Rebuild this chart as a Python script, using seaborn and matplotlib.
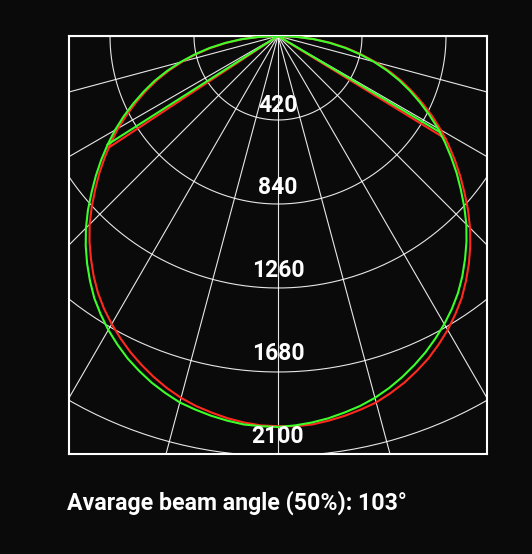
import numpy as np
import pandas as pd
import matplotlib.pyplot as plt
import seaborn as sns

# Luminous intensity (cd), 0..90 deg from nadir, 2.5 deg steps
angles = [0, 2.5, 5, 7.5, 10, 12.5, 15, 17.5, 20, 22.5, 25, 27.5, 30, 32.5, 35,
          37.5, 40, 42.5, 45, 47.5, 50, 52.5, 55, 57.5, 60, 62.5, 65, 67.5, 70,
          72.5, 75, 77.5, 80, 82.5, 85, 87.5, 90]
wide_side = [1955, 1953, 1950, 1940, 1928, 1913, 1897, 1872, 1845, 1813, 1779,
             1739, 1697, 1650, 1601, 1544, 1485, 1423, 1358, 1289, 1217, 1148,
             1079, 1010, 941, 870, 798, 727, 657, 582, 505, 427, 349, 266, 182, 92, 0]
narrow_side = [1951, 1949, 1940, 1928, 1912, 1895, 1873, 1846, 1815, 1781, 1745,
               1705, 1663, 1618, 1569, 1514, 1455, 1395, 1332, 1263, 1193, 1126,
               1057, 990, 923, 852, 782, 713, 643, 570, 495, 419, 341, 260, 178, 90, 0]

# angle where each plane's straight segment meets its curve (left, right)
green_cut = [-57.5, 59.3]
red_cut = [-56.6, 58.5]

rings = [420, 840, 1260, 1680, 2100]
spokes = list(range(-90, 91, 15))
caption = "Avarage beam angle (50%): 103°"

bg = "#0a0a0a"
RED = "#ff2a1e"
GREEN = "#3cff2a"


def to_xy(theta_deg, r):
    t = np.radians(np.asarray(theta_deg, dtype=float))
    r = np.asarray(r, dtype=float)
    return r * np.sin(t), -r * np.cos(t)


def plane(left_vals, right_vals, cut):
    th = [-a for a in angles[::-1]] + angles[1:]
    rr = left_vals[::-1] + right_vals[1:]
    x, y = to_xy(th, rr)
    arc = pd.DataFrame({"x": x, "y": y, "seg": "arc"})
    # straight segments: left cut -> centre -> right cut
    rl = np.interp(-cut[0], angles, left_vals)
    rr2 = np.interp(cut[1], angles, right_vals)
    vx, vy = to_xy([cut[0], 0, cut[1]], [rl, 0, rr2])
    v = pd.DataFrame({"x": vx, "y": vy, "seg": "v"})
    return pd.concat([arc, v], ignore_index=True)


red_df = plane(narrow_side, wide_side, red_cut)
green_df = plane(wide_side, narrow_side, green_cut)

fig = plt.figure(figsize=(5.32, 5.54), dpi=100, facecolor=bg)
ax = fig.add_axes([69 / 532, 100 / 554, 418 / 532, 418 / 554])
ax.set_facecolor(bg)

# polar grid
t = np.linspace(0, 2 * np.pi, 400)
for r in rings:
    ax.plot(r * np.sin(t), r * np.cos(t), color="white", lw=0.8, alpha=0.9, zorder=1)
for a in spokes:
    sx, sy = to_xy([a, a], [0, 3000])
    ax.plot(sx, sy, color="white", lw=0.8, alpha=0.9, zorder=1)

for df, col in [(red_df, RED), (green_df, GREEN)]:
    for seg, part in df.groupby("seg"):
        sns.lineplot(data=part, x="x", y="y", sort=False, estimator=None,
                     color=col, lw=1.5, ax=ax, zorder=3)

for r in rings:
    ax.text(0, -(r * 0.985 - 35), str(r), color="white", fontsize=16.5,
            fontweight="bold", family="Roboto", ha="center", va="baseline", zorder=4)

ax.set_xlim(-1045, 1045)
ax.set_ylim(-2090, 0)
ax.set_aspect("equal")
ax.set_xticks([])
ax.set_yticks([])
ax.set_xlabel("")
ax.set_ylabel("")
for s in ax.spines.values():
    s.set_color("white")
    s.set_linewidth(1.5)

fig.text(67 / 532, 44 / 554, caption, color="white", fontsize=16.7,
         fontweight="bold", family="Roboto", ha="left", va="baseline")

fig.savefig("out.png", dpi=100, facecolor=bg)
